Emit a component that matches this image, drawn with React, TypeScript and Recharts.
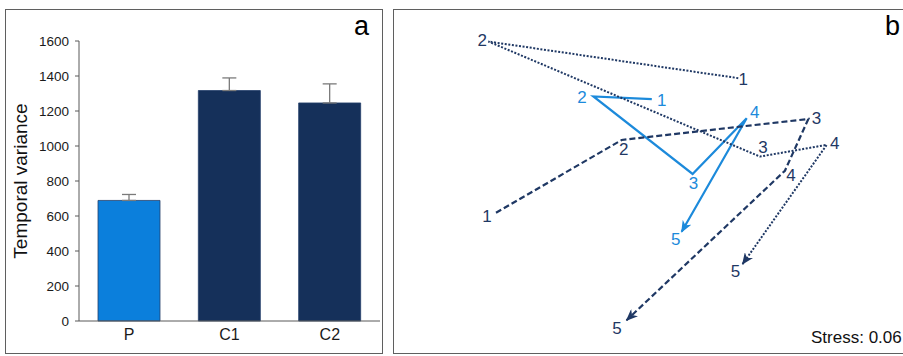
import React from "react";
import {
  Bar,
  BarChart,
  Cell,
  ErrorBar,
  Label,
  LabelList,
  Line,
  LineChart,
  XAxis,
  YAxis,
} from "recharts";

// panel a: temporal variance per community
const GROUPS = ["P", "C1", "C2"];
const VARIANCE = [689, 1317, 1246];
const VARIANCE_SE = [34, 72, 109];
const VARIANCE_TICKS = [0, 200, 400, 600, 800, 1000, 1200, 1400, 1600];

// panel b: NMDS trajectories over sampling times 1-5
const TIMES = ["1", "2", "3", "4", "5"];
const P_NMDS1 = [0.011, -0.218, 0.171, 0.383, 0.128];
const P_NMDS2 = [0.335, 0.346, 0.029, 0.257, -0.208];
const C1_NMDS1 = [-0.6, -0.107, 0.625, 0.533, -0.088];
const C1_NMDS2 = [-0.13, 0.168, 0.254, 0.042, -0.57];
const C2_NMDS1 = [0.35, -0.63, 0.435, 0.697, 0.367];
const C2_NMDS2 = [0.421, 0.571, 0.1, 0.148, -0.34];
const STRESS = 0.06;

const LIGHT = "#1C8ADB";
const NAVY = "#1F3864";
const BAR_COLORS = ["#0B7FDC", "#15305A", "#15305A"];
const FONT = "'Liberation Sans', Arial, sans-serif";

// where each time label sits relative to its point (px)
const P_LABEL_OFFSETS = [[10, 1], [-11.5, 1], [1, 9.5], [8, -5.5], [-6, 8]];
const C1_LABEL_OFFSETS = [[-9, 3.5], [2, 10], [8, 0], [6, 5], [-9.5, 8]];
const C2_LABEL_OFFSETS = [[5, 1.5], [-6, -1], [3, -9.5], [8, -1.5], [-7, 7.5]];

const barData = GROUPS.map((g, i) => ({
  group: g,
  variance: VARIANCE[i],
  se: [0, VARIANCE_SE[i]],
}));

const track = (xs: number[], ys: number[]) =>
  xs.map((x, i) => ({ x, y: ys[i], time: TIMES[i] }));

const trajectories = [
  { key: "P", data: track(P_NMDS1, P_NMDS2), color: LIGHT, dash: undefined, width: 2.2, offsets: P_LABEL_OFFSETS, marker: "arrow-light" },
  { key: "C1", data: track(C1_NMDS1, C1_NMDS2), color: NAVY, dash: "6 3", width: 2.2, offsets: C1_LABEL_OFFSETS, marker: "arrow-navy" },
  { key: "C2", data: track(C2_NMDS1, C2_NMDS2), color: NAVY, dash: "2 1.6", width: 2, offsets: C2_LABEL_OFFSETS, marker: "arrow-navy" },
];

function timeLabel(color: string, offsets: number[][]) {
  return (props: any) => {
    const { x, y, index, value } = props;
    const [dx, dy] = offsets[index] || [0, 0];
    return (
      <text
        x={x + dx}
        y={y + dy}
        fill={color}
        fontSize={17}
        fontFamily={FONT}
        textAnchor="middle"
        dominantBaseline="central"
      >
        {value}
      </text>
    );
  };
}

const panelStyle: React.CSSProperties = {
  position: "absolute",
  top: 9,
  height: 345,
  boxSizing: "border-box",
  border: "1px solid #5f5f5f",
  background: "#fff",
};

export default function App() {
  return (
    <div
      style={{
        position: "absolute",
        left: 0,
        top: 0,
        width: 903,
        height: 356,
        overflow: "hidden",
        background: "#fff",
        fontFamily: FONT,
      }}
    >
      <svg width={0} height={0} style={{ position: "absolute" }}>
        <defs>
          <marker id="arrow-light" viewBox="0 0 12 10" refX={11} refY={5} markerWidth={12} markerHeight={10} markerUnits="userSpaceOnUse" orient="auto">
            <path d="M0,0 L12,5 L0,10 L3.5,5 Z" fill={LIGHT} />
          </marker>
          <marker id="arrow-navy" viewBox="0 0 12 10" refX={11} refY={5} markerWidth={12} markerHeight={10} markerUnits="userSpaceOnUse" orient="auto">
            <path d="M0,0 L12,5 L0,10 L3.5,5 Z" fill={NAVY} />
          </marker>
        </defs>
      </svg>

      {/* a */}
      <div style={{ ...panelStyle, left: 5, width: 378 }}>
        <BarChart
          width={376}
          height={343}
          data={barData}
          margin={{ top: 31, right: 2, left: 0, bottom: 0 }}
          barCategoryGap="38%"
        >
          <XAxis
            dataKey="group"
            height={32}
            tickLine={false}
            axisLine={{ stroke: "#595959" }}
            tick={{ fontSize: 16, fill: "#1a1a1a", fontFamily: FONT }}
          />
          <YAxis
            width={73}
            domain={[0, 1600]}
            ticks={VARIANCE_TICKS}
            interval={0}
            tickSize={4}
            tickMargin={6}
            axisLine={{ stroke: "#595959" }}
            tickLine={{ stroke: "#595959" }}
            tick={{ fontSize: 13.5, fill: "#1a1a1a", fontFamily: FONT }}
          >
            <Label
              value="Temporal variance"
              angle={-90}
              position="insideLeft"
              offset={14}
              style={{ textAnchor: "middle", fontSize: 19, fill: "#111", fontFamily: FONT }}
            />
          </YAxis>
          <Bar dataKey="variance" barSize={62} isAnimationActive={false} stroke="#243f6b" strokeWidth={0.8}>
            {barData.map((d, i) => (
              <Cell key={d.group} fill={BAR_COLORS[i]} />
            ))}
            <ErrorBar dataKey="se" width={7} stroke="#7a7a7a" strokeWidth={1.3} direction="y" />
          </Bar>
        </BarChart>
        <div style={{ position: "absolute", left: 348, top: 1, fontSize: 27, color: "#000" }}>a</div>
      </div>

      {/* b */}
      <div style={{ ...panelStyle, left: 393, width: 540 }}>
        <LineChart width={510} height={343} margin={{ top: 0, right: 0, left: 0, bottom: 1 }}>
          <XAxis type="number" dataKey="x" domain={[-1, 1]} hide />
          <YAxis type="number" dataKey="y" domain={[-0.7, 0.7]} hide />
          {trajectories.map((t) => (
            <Line
              key={t.key}
              data={t.data}
              dataKey="y"
              type="linear"
              stroke={t.color}
              strokeWidth={t.width}
              strokeDasharray={t.dash}
              dot={false}
              activeDot={false}
              markerEnd={`url(#${t.marker})`}
              isAnimationActive={false}
            >
              <LabelList dataKey="time" content={timeLabel(t.color, t.offsets)} />
            </Line>
          ))}
        </LineChart>
        <div style={{ position: "absolute", left: 491, top: 1, fontSize: 27, color: "#000" }}>b</div>
        <div style={{ position: "absolute", left: 417, top: 318, fontSize: 17, color: "#111" }}>
          Stress: {STRESS.toFixed(2)}
        </div>
      </div>
    </div>
  );
}
